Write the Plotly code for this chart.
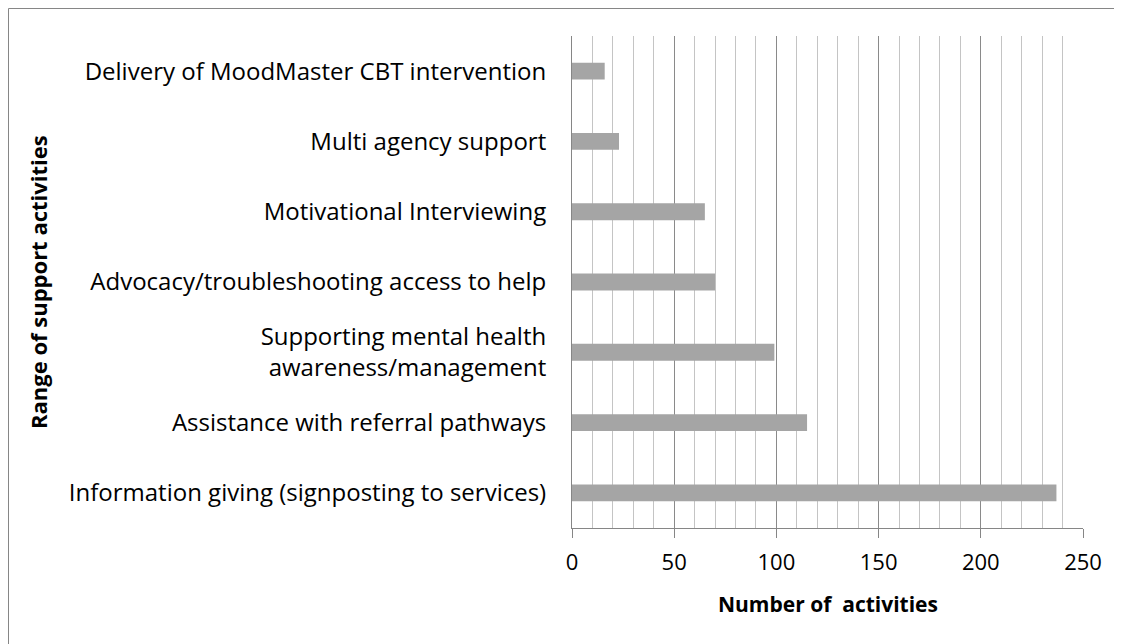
import plotly.graph_objects as go

categories = [
    "Information giving (signposting to services)",
    "Assistance with referral pathways",
    "Supporting mental health<br>awareness/management",
    "Advocacy/troubleshooting access to help",
    "Motivational Interviewing",
    "Multi agency support",
    "Delivery of MoodMaster CBT intervention",
]
values = [237, 115, 99, 70, 65, 23, 16]
x_ticks = [0, 50, 100, 150, 200, 250]

# page body has an 8px margin; figure sized so the plot lands where the reference is
W, H = 1114, 636
L, R, T, B = 564, 39, 28, 116
pw, ph = W - L - R, H - T - B

fig = go.Figure(go.Bar(
    y=categories, x=values, orientation="h",
    marker=dict(color="#a5a5a5", line=dict(width=0)),
))

def px2paper_x(p):
    return (p - L) / pw

def px2paper_y(p):
    return (H - B - p) / ph

fig.add_shape(type="rect", xref="paper", yref="paper",
              x0=px2paper_x(0.5), x1=px2paper_x(1140),
              y0=px2paper_y(680), y1=px2paper_y(0.5),
              line=dict(color="#868686", width=1), fillcolor="rgba(0,0,0,0)",
              layer="below")

font = "'Open Sans', sans-serif"

fig.add_annotation(xref="paper", yref="paper", x=px2paper_x(30), y=px2paper_y(274),
                   text="<b>Range of support activities</b>", textangle=-90, showarrow=False,
                   xanchor="center", yanchor="middle",
                   font=dict(size=22, family=font, color="#000000"))
fig.add_annotation(xref="paper", yref="paper", x=px2paper_x(820), y=px2paper_y(596),
                   text="<b>Number of&nbsp; activities</b>", showarrow=False,
                   xanchor="center", yanchor="middle",
                   font=dict(size=21, family=font, color="#000000"))

fig.update_layout(
    width=W, height=H,
    margin=dict(l=L, r=R, t=T, b=B, pad=0),
    paper_bgcolor="white", plot_bgcolor="white",
    bargap=0.76,
    showlegend=False,
    font=dict(family=font, color="#000000", size=22),
    xaxis=dict(
        range=[0, 250], tickvals=x_ticks, ticktext=[str(v) for v in x_ticks],
        showgrid=True, gridcolor="#8a8a8a", gridwidth=1,
        minor=dict(dtick=10, tick0=0, showgrid=True, gridcolor="#c4c4c4", gridwidth=1, ticks=""),
        zeroline=False, showline=True, linecolor="#868686", linewidth=1,
        ticks="outside", ticklen=9, tickcolor="#868686", tickwidth=1,
        ticklabelstandoff=6,
        tickfont=dict(size=22, family=font),
    ),
    yaxis=dict(
        categoryorder="array", categoryarray=categories,
        showgrid=False, zeroline=False,
        showline=True, linecolor="#868686", linewidth=1,
        ticks="", ticklabelstandoff=20,
        tickfont=dict(size=24, family=font),
    ),
)

fig.write_html("out.html")
